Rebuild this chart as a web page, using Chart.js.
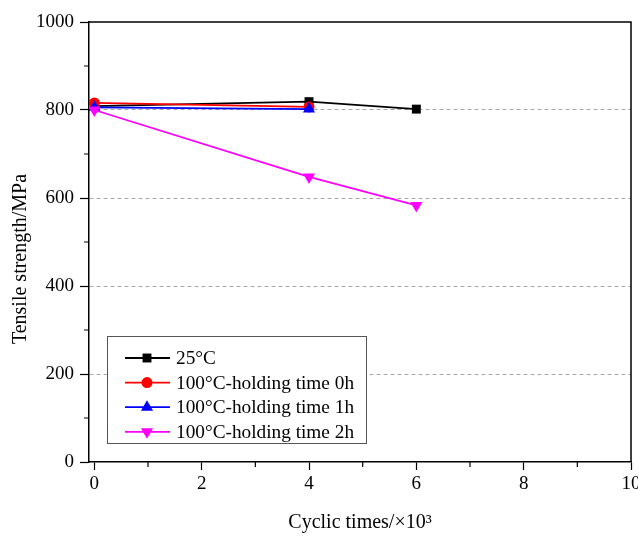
<!DOCTYPE html>
<html>
<head>
<meta charset="utf-8">
<script src="https://cdn.jsdelivr.net/npm/chart.js@4/dist/chart.umd.min.js"></script>
<style>
    html, body { margin: 0; padding: 0; background: #fff; }
    #wrap { width: 638px; height: 536px; }
</style>
</head>
<body>
<div id="wrap"><canvas id="tensileChart" width="638" height="536"></canvas></div>
<script>
// Data
const cycles = [0, 4, 6];               // ×10^3
const temp25 = [809, 819, 802];
const hold0h = [816, 807];
const hold1h = [806, 802];
const hold2h = [800, 648, 583];
const seriesLabels = ['25°C', '100°C-holding time 0h', '100°C-holding time 1h', '100°C-holding time 2h'];
const yTitle = 'Tensile strength/MPa';
const xTitle = 'Cyclic times/×10³';

const serif = '"Liberation Serif", "Times New Roman", serif';

function pts(vals) {
    return vals.map((v, i) => ({ x: cycles[i], y: v }));
}

// frame on top/right, minor ticks, y title, boxed legend
const extras = {
    id: 'extras',
    afterDraw(chart) {
        const ctx = chart.ctx;
        const a = chart.chartArea;
        const xs = chart.scales.x, ys = chart.scales.y;
        ctx.save();
        ctx.strokeStyle = '#000';
        ctx.lineWidth = 1.5;
        ctx.beginPath();
        ctx.moveTo(a.left, a.top);
        ctx.lineTo(a.right, a.top);
        ctx.lineTo(a.right, a.bottom);
        ctx.stroke();

        // minor ticks
        ctx.lineWidth = 1.2;
        ctx.beginPath();
        xs.ticks.forEach(t => {
            if (t.value % 2 !== 0) {
                const px = xs.getPixelForValue(t.value);
                ctx.moveTo(px, a.bottom);
                ctx.lineTo(px, a.bottom + 5);
            }
        });
        ys.ticks.forEach(t => {
            if (t.value % 200 !== 0) {
                const py = ys.getPixelForValue(t.value);
                ctx.moveTo(a.left, py);
                ctx.lineTo(a.left - 5, py);
            }
        });
        ctx.stroke();

        // y axis title
        ctx.fillStyle = '#000';
        ctx.font = '20px ' + serif;
        ctx.textAlign = 'center';
        ctx.textBaseline = 'middle';
        ctx.translate(21, a.top + 237);
        ctx.rotate(-Math.PI / 2);
        ctx.fillText(yTitle, 0, 0);
        ctx.restore();

        // legend
        ctx.save();
        const lx = a.left + 18, ly = a.top + 314;
        ctx.fillStyle = '#fff';
        ctx.fillRect(lx, ly, 259, 107);
        ctx.strokeStyle = '#555';
        ctx.lineWidth = 1;
        ctx.strokeRect(lx + 0.5, ly + 0.5, 259, 107);
        chart.data.datasets.forEach((ds, i) => {
            const y = ly + 22 + i * 24.6;
            ctx.strokeStyle = ds.borderColor;
            ctx.lineWidth = ds.borderWidth;
            ctx.beginPath();
            ctx.moveTo(lx + 18, y);
            ctx.lineTo(lx + 63, y);
            ctx.stroke();
            ctx.fillStyle = ds.pointBackgroundColor;
            Chart.helpers.drawPoint(ctx, {
                pointStyle: ds.pointStyle,
                radius: ds.pointRadius,
                rotation: ds.pointRotation || 0,
                borderWidth: 0
            }, lx + 40, y);
            ctx.fillStyle = '#000';
            ctx.font = '19.3px ' + serif;
            ctx.textAlign = 'left';
            ctx.textBaseline = 'middle';
            ctx.fillText(ds.label, lx + 69, y + 1);
        });
        ctx.restore();
    }
};

const datasets = [
    { label: seriesLabels[0], data: pts(temp25), color: '#000000', style: 'rect', r: 6.3, order: 4 },
    { label: seriesLabels[1], data: pts(hold0h), color: '#ff0000', style: 'circle', r: 5.5, order: 3 },
    { label: seriesLabels[2], data: pts(hold1h), color: '#0000ff', style: 'triangle', r: 7, order: 2 },
    { label: seriesLabels[3], data: pts(hold2h), color: '#ff00ff', style: 'triangle', r: 7, rot: 180, order: 1 }
].map(s => ({
    label: s.label,
    data: s.data,
    borderColor: s.color,
    backgroundColor: s.color,
    pointBackgroundColor: s.color,
    pointBorderColor: s.color,
    pointBorderWidth: 0,
    pointStyle: s.style,
    pointRadius: s.r,
    pointRotation: s.rot || 0,
    borderWidth: 1.8,
    tension: 0,
    order: s.order
}));

new Chart(document.getElementById('tensileChart').getContext('2d'), {
    type: 'line',
    data: { datasets: datasets },
    options: {
        responsive: false,
        animation: false,
        devicePixelRatio: 1,
        layout: { padding: { top: 22, right: 7, left: 0, bottom: 0 } },
        plugins: {
            legend: { display: false },
            tooltip: { enabled: false }
        },
        scales: {
            x: {
                type: 'linear',
                min: -0.1,
                max: 10,
                afterFit(scale) {
                    scale.height = 74;
                    scale.paddingLeft = 0;
                    scale.paddingRight = 0;
                },
                ticks: {
                    stepSize: 1,
                    includeBounds: false,
                    autoSkip: false,
                    maxRotation: 0,
                    padding: 3,
                    color: '#000',
                    font: { family: serif, size: 19 },
                    callback: v => (v % 2 === 0 ? v : '')
                },
                grid: {
                    drawOnChartArea: false,
                    tickLength: 8,
                    tickWidth: 1.2,
                    tickColor: ctx => (ctx.tick && ctx.tick.value % 2 === 0 ? '#000' : 'rgba(0,0,0,0)')
                },
                border: { color: '#000', width: 1.5 },
                title: {
                    display: true,
                    text: xTitle,
                    color: '#000',
                    font: { family: serif, size: 20 },
                    padding: { top: 0, bottom: 1 }
                }
            },
            y: {
                min: 0,
                max: 1000,
                afterFit(scale) {
                    scale.width = 89;
                },
                ticks: {
                    stepSize: 100,
                    autoSkip: false,
                    padding: 6,
                    color: '#000',
                    font: { family: serif, size: 19 },
                    callback: v => (v % 200 === 0 ? v : '')
                },
                grid: {
                    lineWidth: 1,
                    color: ctx => {
                        const v = ctx.tick ? ctx.tick.value : -1;
                        return (v > 0 && v < 1000 && v % 200 === 0) ? '#a8a8a8' : 'rgba(0,0,0,0)';
                    },
                    tickLength: 9,
                    tickWidth: 1.2,
                    tickColor: ctx => (ctx.tick && ctx.tick.value % 200 === 0 ? '#000' : 'rgba(0,0,0,0)')
                },
                border: { color: '#000', width: 1.5, dash: [4, 3] }
            }
        }
    },
    plugins: [extras]
});
</script>
</body>
</html>
